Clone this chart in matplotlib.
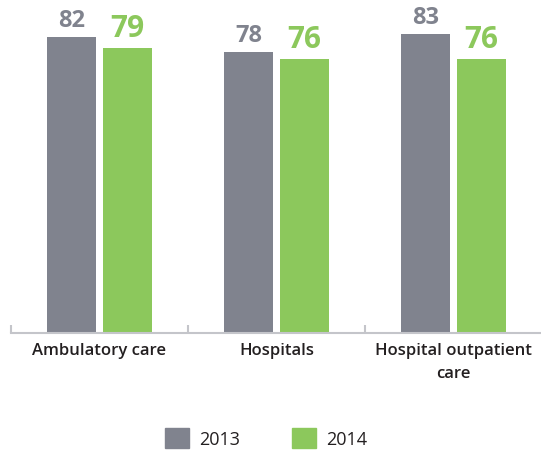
import numpy as np
import matplotlib.pyplot as plt
from matplotlib.patches import Patch

plt.rcParams['font.family'] = ['Open Sans', 'DejaVu Sans']

categories = ['Ambulatory care', 'Hospitals', 'Hospital outpatient\ncare']
years = ['2013', '2014']
values_2013 = [82, 78, 83]
values_2014 = [79, 76, 76]

gray = '#80838e'
green = '#8cc85c'

fig = plt.figure(figsize=(5.41, 4.52), dpi=100)
ax = fig.add_axes([11 / 541, 118.5 / 452, 531 / 541, 333.5 / 452])

x = np.arange(len(categories))
w = 0.272
off = 0.158
b1 = ax.bar(x - off, values_2013, w, color=gray)
b2 = ax.bar(x + off, values_2014, w, color=green)

# value labels above the bars
for rect, v in zip(b1, values_2013):
    ax.text(rect.get_x() + rect.get_width() / 2, v + 1.4, str(v), ha='center', va='bottom',
            color=gray, fontsize=17, fontweight='bold')
for rect, v in zip(b2, values_2014):
    ax.text(rect.get_x() + rect.get_width() / 2, v + 1.4, str(v), ha='center', va='bottom',
            color=green, fontsize=21.5, fontweight='bold')

ax.set_xlim(-0.5, 2.5)
ax.set_ylim(0, 92.6)
ax.set_yticks([])
ax.set_xticks(x, categories, fontsize=12, fontweight='semibold', color='#231f20',
              linespacing=1.6)
ax.tick_params(axis='x', which='major', length=0, pad=7)
ax.set_xticks([-0.5, 0.5, 1.5], minor=True)
ax.tick_params(axis='x', which='minor', direction='in', length=6, width=1.5, color='#c4c5ca')
for s in ['top', 'right', 'left']:
    ax.spines[s].set_visible(False)
ax.spines['bottom'].set_color('#c4c5ca')
ax.spines['bottom'].set_linewidth(1.5)

handles = [Patch(color=gray, label=years[0]), Patch(color=green, label=years[1])]
fig.legend(handles=handles, loc='center', bbox_to_anchor=(266 / 541, 1 - 439 / 452), ncol=2,
           frameon=False, prop={'size': 13}, handlelength=1.33, handleheight=1.33,
           handletextpad=0.55, columnspacing=2.9, labelcolor='#231f20')

fig.savefig('out.png', dpi=100)
